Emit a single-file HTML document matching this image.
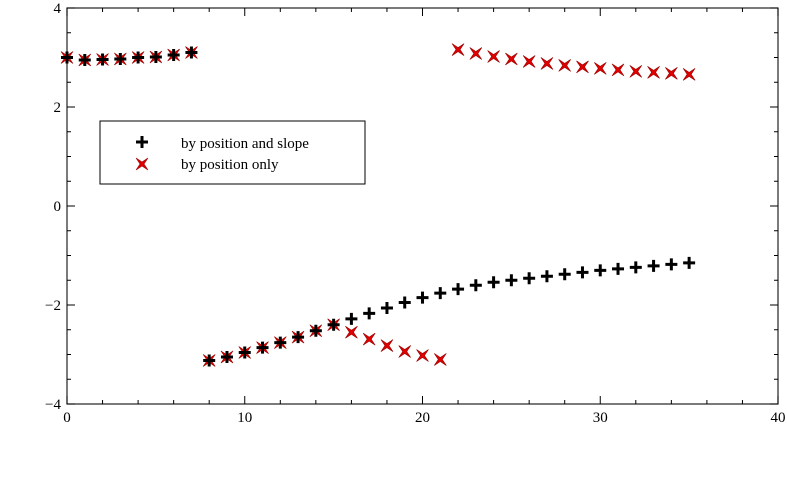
<!DOCTYPE html>
<html><head><meta charset="utf-8"><style>
body{margin:0;background:#fff;width:787px;height:472px;overflow:hidden}
text{font-family:"Liberation Serif",serif;font-size:15px;fill:#000}
</style></head><body>
<svg id="chart" width="787" height="472"></svg>
<script>
const xs=[];for(let i=0;i<=35;i++)xs.push(i);
const blackY=[3.0,2.95,2.96,2.97,3.0,3.01,3.05,3.1,-3.12,-3.05,-2.96,-2.86,-2.76,-2.65,-2.52,-2.4,-2.28,-2.17,-2.06,-1.95,-1.85,-1.76,-1.68,-1.6,-1.54,-1.5,-1.46,-1.42,-1.38,-1.34,-1.3,-1.27,-1.24,-1.21,-1.18,-1.15];
const redY=[3.0,2.95,2.96,2.97,3.0,3.01,3.05,3.1,-3.12,-3.05,-2.96,-2.86,-2.76,-2.65,-2.52,-2.4,-2.55,-2.69,-2.82,-2.94,-3.02,-3.1,3.16,3.08,3.02,2.97,2.92,2.88,2.84,2.81,2.78,2.75,2.72,2.7,2.68,2.66];
const xTicks=[0,10,20,30,40];
const yTicks=[4,2,0,-2,-4];
const L=67,R=778,T=8,B=404;
const sx=v=>L+(v-0)/40*(R-L);
const sy=v=>T+(4-v)/8*(B-T);
const svg=document.getElementById('chart');
const NS='http://www.w3.org/2000/svg';
function mk(t,a,p){const e=document.createElementNS(NS,t);for(const k in a)e.setAttribute(k,a[k]);(p||svg).appendChild(e);return e;}
const frame=mk('rect',{x:L,y:T,width:R-L,height:B-T,fill:'none',stroke:'#222','stroke-width':1.2});


for(let v=0;v<=40;v+=2){const maj=v%10===0,len=maj?8:4;
 mk('line',{x1:sx(v),x2:sx(v),y1:B,y2:B-len,stroke:'#000'});
 mk('line',{x1:sx(v),x2:sx(v),y1:T,y2:T+len,stroke:'#000'});}
for(let v=-4;v<=4;v+=0.5){const maj=v%2===0,len=maj?8:4;
 mk('line',{x1:L,x2:L+len,y1:sy(v),y2:sy(v),stroke:'#000'});
 mk('line',{x1:R,x2:R-len,y1:sy(v),y2:sy(v),stroke:'#000'});}
xTicks.forEach(v=>{const t=mk('text',{x:sx(v),y:B+18,'text-anchor':'middle'});t.textContent=v;
 
 });
yTicks.forEach(v=>{const t=mk('text',{x:L-6,y:sy(v)+5,'text-anchor':'end'});t.textContent=v<0?'\u2212'+(-v):v;
 
 });
function redX(cx,cy,p){mk('path',{d:`M${cx-6} ${cy-6}L${cx} ${cy-2}L${cx+6} ${cy-6}L${cx+2} ${cy}L${cx+6} ${cy+6}L${cx} ${cy+2}L${cx-6} ${cy+6}L${cx-2} ${cy}Z`,fill:'#e00000',stroke:'#900','stroke-width':0.6},p);}
function plus(cx,cy,p){mk('path',{d:`M${cx-6} ${cy}H${cx+6}M${cx} ${cy-6}V${cy+6}`,stroke:'#000','stroke-width':3},p);}
const gr=mk('g',{});


xs.forEach((x,i)=>redX(sx(x),sy(redY[i]),gr));
const gb=mk('g',{});


xs.forEach((x,i)=>plus(sx(x),sy(blackY[i]),gb));
const lg=mk('g',{});


mk('rect',{x:100,y:121,width:265,height:63,fill:'#fff',stroke:'#000'},lg);
plus(142,142,lg);redX(142,164,lg);
const t1=mk('text',{x:181,y:148},lg);t1.textContent='by position and slope';


const t2=mk('text',{x:181,y:169},lg);t2.textContent='by position only';


</script>
</body></html>
